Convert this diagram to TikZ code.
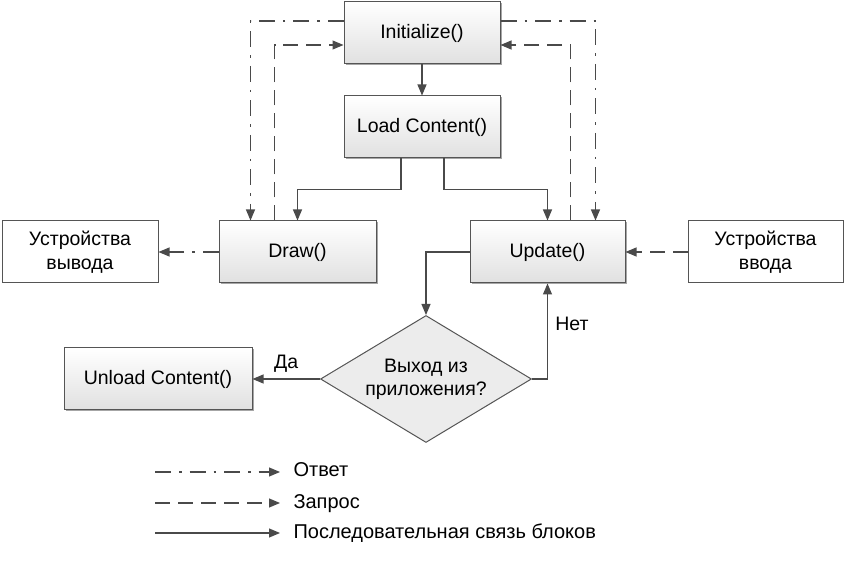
\documentclass[tikz,border=0pt]{standalone}
\usepackage{fontspec}
\setmainfont{Liberation Sans}
\usetikzlibrary{arrows.meta,shapes.geometric,shadows}
\definecolor{ln}{HTML}{4A4A4A}
\definecolor{bd}{HTML}{555555}
\begin{document}
\begin{tikzpicture}[x=1pt,y=-1pt,
  blk/.style={draw=bd, line width=1pt, top color=white, bottom color=gray!24,
    minimum width=156pt, minimum height=62pt, inner sep=0pt, align=center,
    font=\fontsize{19.5}{24}\selectfont,
    drop shadow={shadow xshift=1.5pt,shadow yshift=-1.5pt,opacity=0.35,fill=black}},
  ext/.style={draw=bd, line width=1pt, fill=white, minimum width=156pt,
    minimum height=62pt, inner sep=0pt, align=center,
    font=\fontsize{19.5}{24}\selectfont},
  dec/.style={diamond, aspect=1.66, draw=bd, line width=1pt, fill=gray!15,
    minimum width=211pt, minimum height=127pt, inner sep=0pt, align=center,
    font=\fontsize{19.5}{23}\selectfont},
  conn/.style={draw=ln, line width=1.1pt, -{Triangle[length=11pt,width=9pt]}},
  req/.style={conn, dash pattern=on 15pt off 8pt},
  resp/.style={conn, dash pattern=on 16pt off 8pt on 2.5pt off 8pt},
  lbl/.style={font=\fontsize{19.5}{22}\selectfont, text height=14pt, text depth=4pt},
  leg/.style={font=\fontsize{20}{22}\selectfont, text height=14pt, text depth=4pt}
]
\useasboundingbox (0,0) rectangle (847,569);

\node[blk] (init) at (422,33) {Initialize()};
\node[blk] (load) at (422,127) {Load Content()};
\node[blk, minimum width=157pt] (draw) at (297.5,252) {Draw()};
\node[blk, minimum width=155pt] (upd) at (547.5,252) {Update()};
\node[ext] (out) at (80,252) {Устройства\\вывода};
\node[ext, minimum width=155pt] (inp) at (765.5,252) {Устройства\\ввода};
\node[blk, minimum width=188pt] (unl) at (158,379) {Unload Content()};
\node[dec] (q) at (426,379) {Выход из\\приложения?};

% sequential links
\draw[conn] (init) -- (load);
\draw[conn] ([xshift=-21pt]load.south) |- ([yshift=31pt]draw.north) -- (draw.north);
\draw[conn] ([xshift=22pt]load.south) |- ([yshift=31pt]upd.north) -- (upd.north);
\draw[conn] (upd.west) -| (q.north);
\draw[conn] (q.east) -| (upd.south) node[lbl, pos=0.78, right, xshift=4pt] {Нет};
\draw[conn] (q.west) -- (unl.east) node[lbl, midway, above=3pt] {Да};

% responses (dash-dot)
\draw[resp] ([yshift=12pt]init.west) -| ([xshift=32pt]draw.north west);
\draw[resp] ([yshift=12pt]init.east) -| ([xshift=-30pt]upd.north east);
\draw[resp] (draw) -- (out);

% requests (dashed)
\draw[req] ([xshift=56pt]draw.north west) |- ([yshift=-12pt]init.west);
\draw[req] ([xshift=-55pt]upd.north east) |- ([yshift=-12pt]init.east);
\draw[req] (inp) -- (upd);

% legend
\coordinate (l1a) at (155,472); \coordinate (l1b) at (280,472);
\coordinate (l2a) at (155,503); \coordinate (l2b) at (280,503);
\coordinate (l3a) at (155,533); \coordinate (l3b) at (280,533);
\draw[resp] (l1a) -- (l1b);
\draw[req] (l2a) -- (l2b);
\draw[conn] (l3a) -- (l3b);
\node[leg, anchor=west] (t1) at (290,472) {Ответ};
\node[leg, anchor=west] (t2) at (290,503) {Запрос};
\node[leg, anchor=west] (t3) at (290,533) {Последовательная связь блоков};
\end{tikzpicture}
\end{document}
